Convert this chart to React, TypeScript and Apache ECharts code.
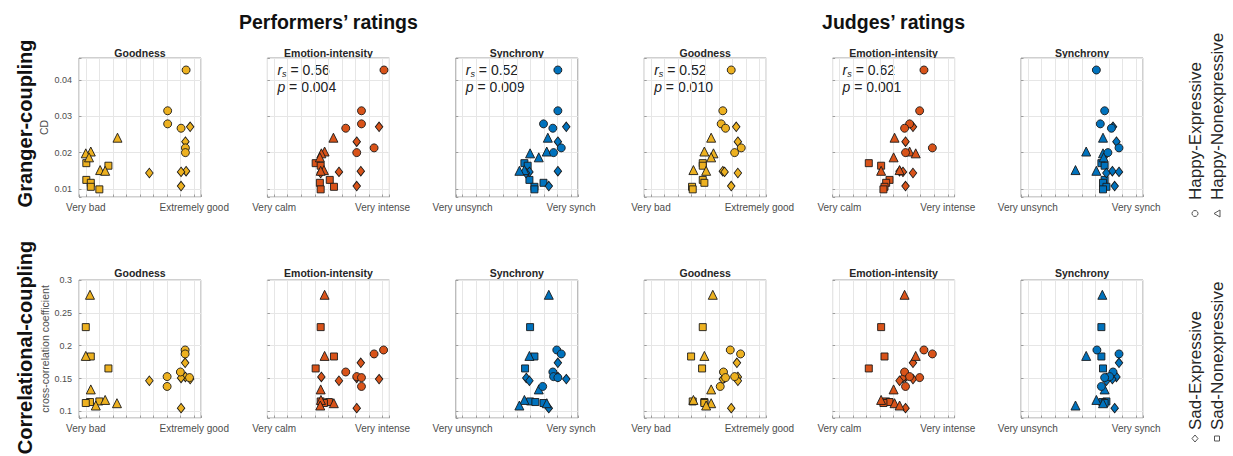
import React, { useEffect, useRef } from 'react';
import * as echarts from 'echarts';

// ---------- data: y values (shared across a row) ----------
// Granger-coupling (CD)
const yTopHE = [0.0427, 0.0315, 0.0279, 0.0267, 0.0213, 0.02];
const yTopHN = [0.0241, 0.0203, 0.0198, 0.0187, 0.0152, 0.015];
const yTopSE = [0.0271, 0.023, 0.0149, 0.0147, 0.0144, 0.0108];
const yTopSN = [0.0171, 0.0164, 0.0125, 0.0117, 0.0106, 0.0099];
// Correlational-coupling (cross-correlation coefficient)
const yBotHE = [0.1935, 0.1875, 0.16, 0.153, 0.1515, 0.138];
const yBotHN = [0.2775, 0.1845, 0.1335, 0.1175, 0.1125, 0.109];
const yBotSE = [0.174, 0.1525, 0.151, 0.1492, 0.1467, 0.105];
const yBotSN = [0.2283, 0.1836, 0.1654, 0.1152, 0.1143, 0.1128];

// ---------- data: x ratings per panel, rows = [HE, HN, SE, SN] ----------
const xTopPerfGoodness = [
  [8.4, 7.04, 7.04, 8.03, 8.35, 8.35],
  [3.34, 1.37, 1.0, 1.24, 2.06, 2.43],
  [8.7, 8.35, 8.4, 8.03, 5.69, 8.03],
  [1.04, 2.67, 1.04, 1.37, 1.37, 2.0],
];
const xTopPerfEmotion = [
  [9.1, 7.44, 7.44, 6.28, 8.37, 7.09],
  [5.37, 4.72, 4.48, 4.37, 4.67, 4.43],
  [8.74, 7.09, 7.39, 5.78, 4.43, 7.09],
  [4.06, 4.43, 5.1, 4.37, 5.41, 4.43],
];
const xTopPerfSynch = [
  [8.03, 8.03, 6.97, 7.66, 8.28, 7.71],
  [7.29, 7.21, 5.98, 6.62, 5.56, 5.19],
  [8.65, 8.03, 8.03, 5.93, 5.68, 7.36],
  [5.56, 5.8, 5.93, 6.97, 6.3, 6.3],
];
const xTopJudgeGoodness = [
  [6.92, 6.3, 6.18, 6.5, 7.66, 7.17],
  [5.44, 4.94, 5.61, 5.44, 4.13, 5.07],
  [7.29, 7.41, 6.3, 6.43, 7.41, 6.92],
  [4.82, 4.82, 4.82, 4.94, 4.03, 4.08],
];
const xTopJudgeEmotion = [
  [7.24, 6.92, 6.18, 5.81, 7.86, 5.88],
  [5.07, 6.18, 6.63, 5.0, 5.44, 4.08],
  [6.43, 5.88, 5.44, 5.69, 6.43, 5.88],
  [3.17, 4.08, 4.7, 4.45, 4.33, 4.25],
];
const xTopJudgeSynch = [
  [6.06, 6.67, 6.35, 7.17, 7.73, 6.91],
  [6.55, 5.31, 6.55, 6.6, 4.52, 6.06],
  [7.29, 7.54, 7.24, 7.73, 6.8, 7.41],
  [6.43, 6.67, 6.67, 6.55, 6.8, 6.55],
];
const xBotPerfGoodness = [
  [8.33, 8.33, 7.98, 7.0, 8.65, 7.0],
  [1.31, 1.0, 1.37, 2.43, 3.3, 1.74],
  [8.33, 8.35, 8.03, 8.7, 5.69, 8.03],
  [1.0, 1.37, 2.67, 2.0, 1.31, 1.0],
];
const xBotPerfEmotion = [
  [9.07, 8.37, 6.28, 7.09, 7.44, 7.44],
  [4.72, 4.72, 4.43, 4.45, 5.4, 4.4],
  [7.39, 4.48, 7.09, 8.74, 5.78, 7.09],
  [4.43, 5.41, 4.06, 4.43, 5.04, 4.67],
];
const xBotPerfSynch = [
  [7.95, 8.28, 7.66, 7.71, 8.03, 6.91],
  [7.36, 5.93, 6.62, 5.56, 7.21, 5.19],
  [8.03, 8.03, 5.7, 8.65, 5.93, 7.36],
  [5.98, 6.3, 5.61, 5.98, 6.37, 6.97],
];
const xBotJudgeGoodness = [
  [6.85, 7.61, 6.35, 7.17, 6.5, 6.11],
  [5.56, 4.94, 5.44, 4.13, 5.44, 5.07],
  [7.34, 7.41, 6.43, 6.3, 7.41, 6.92],
  [4.82, 3.96, 4.77, 4.08, 4.94, 4.94],
];
const xBotJudgeEmotion = [
  [7.24, 7.86, 5.81, 6.18, 6.92, 5.88],
  [5.81, 6.63, 5.0, 4.08, 5.07, 5.44],
  [6.43, 5.88, 5.69, 6.43, 5.44, 5.88],
  [4.08, 4.33, 3.17, 4.45, 4.7, 4.25],
];
const xBotJudgeSynch = [
  [6.1, 7.73, 7.29, 7.04, 6.67, 6.43],
  [6.5, 5.31, 6.67, 6.06, 6.55, 4.52],
  [7.73, 7.54, 6.8, 7.24, 6.8, 7.41],
  [6.43, 6.43, 6.55, 6.8, 6.5, 6.67],
];

// ---------- labels ----------
const panelTitles = ['Goodness', 'Emotion-intensity', 'Synchrony', 'Goodness', 'Emotion-intensity', 'Synchrony'];
const xLowLabels = ['Very bad', 'Very calm', 'Very unsynch', 'Very bad', 'Very calm', 'Very unsynch'];
const xHighLabels = ['Extremely good', 'Very intense', 'Very synch', 'Extremely good', 'Very intense', 'Very synch'];
const groupTitles = ['Performers\u2019 ratings', 'Judges\u2019 ratings'];
const rowTitles = ['Granger-coupling', 'Correlational-coupling'];
const yNames = ['CD', 'cross-correlation coefficient'];
const conditions = ['Happy-Expressive', 'Happy-Nonexpressive', 'Sad-Expressive', 'Sad-Nonexpressive'];
const statsR = ['', '0.56', '0.52', '0.52', '0.62', ''];
const statsP = ['', '0.004', '0.009', '0.010', '0.001', ''];

// ---------- style / layout ----------
const FONT = "'Liberation Sans', Arial, Helvetica, sans-serif";
const COLORS = ['#EDB120', '#D95319', '#0072BD', '#EDB120', '#D95319', '#0072BD'];
const SYMBOLS = ['circle', 'triangle', 'diamond', 'rect'];
const SYMBOL_SIZES: any[] = [8, 9, [7.5, 9.5], 7];
const GRID_LEFT0 = 79;
const GRID_STEP = 188.4;
const GRID_W = 122;
const ROW_LAYOUT = [
  { top: 58, height: 139, min: 0.0078, max: 0.046, step: 0.01 },
  { top: 280, height: 138, min: 0.09, max: 0.3, step: 0.05 },
];

const rowYs = [
  [yTopHE, yTopHN, yTopSE, yTopSN],
  [yBotHE, yBotHN, yBotSE, yBotSN],
];
const rowXs = [
  [xTopPerfGoodness, xTopPerfEmotion, xTopPerfSynch, xTopJudgeGoodness, xTopJudgeEmotion, xTopJudgeSynch],
  [xBotPerfGoodness, xBotPerfEmotion, xBotPerfSynch, xBotJudgeGoodness, xBotJudgeEmotion, xBotJudgeSynch],
];

function buildOption() {
  const grids: any[] = [];
  const xAxes: any[] = [];
  const yAxes: any[] = [];
  const series: any[] = [];
  const graphics: any[] = [];

  for (let r = 0; r < 2; r++) {
    const L = ROW_LAYOUT[r];
    for (let c = 0; c < 6; c++) {
      const g = r * 6 + c;
      const left = GRID_LEFT0 + c * GRID_STEP;
      grids.push({
        left,
        top: L.top,
        width: GRID_W,
        height: L.height,
        show: true,
        borderColor: '#a0a0a0',
        borderWidth: 1,
        backgroundColor: '#ffffff',
      });
      const lo = xLowLabels[c];
      const hi = xHighLabels[c];
      xAxes.push({
        gridIndex: g,
        type: 'value',
        min: 0.5,
        max: 9.5,
        splitNumber: 9,
        minInterval: 1,
        maxInterval: 1,
        axisLine: { show: false },
        axisTick: { show: true, inside: true, length: 2.5, lineStyle: { color: '#8a8a8a', width: 0.8 } },
        splitLine: { show: true, lineStyle: { color: '#e6e6e6', width: 1 } },
        axisLabel: {
          show: true,
          margin: 5,
          fontSize: 10,
          fontFamily: FONT,
          color: '#4d4d4d',
          formatter: (v: number) => (Math.abs(v - 1) < 1e-9 ? lo : Math.abs(v - 9) < 1e-9 ? hi : ''),
        },
      });
      const step = L.step;
      yAxes.push({
        gridIndex: g,
        type: 'value',
        min: L.min,
        max: L.max,
        splitNumber: 5,
        minInterval: step,
        maxInterval: step,
        axisLine: { show: false },
        axisTick: { show: true, inside: true, length: 2.5, lineStyle: { color: '#8a8a8a', width: 0.8 } },
        splitLine: { show: true, lineStyle: { color: '#e6e6e6', width: 1 } },
        axisLabel: {
          show: c === 0,
          margin: 7,
          fontSize: 9,
          fontFamily: FONT,
          color: '#4d4d4d',
          formatter: (v: number) => {
            const q = v / step;
            return Math.abs(q - Math.round(q)) < 1e-6 ? String(parseFloat(v.toFixed(4))) : '';
          },
        },
        name: c === 0 ? yNames[r] : '',
        nameLocation: 'middle',
        nameGap: r === 0 ? 30 : 27,
        nameTextStyle: { fontSize: 10.5, fontFamily: FONT, color: '#4d4d4d' },
      });

      const xs = rowXs[r][c];
      const ys = rowYs[r];
      for (let k = 3; k >= 0; k--) {
        series.push({
          type: 'scatter',
          name: conditions[k],
          xAxisIndex: g,
          yAxisIndex: g,
          symbol: SYMBOLS[k],
          symbolSize: SYMBOL_SIZES[k],
          silent: true,
          data: xs[k].map((x: number, i: number) => [x, ys[k][i]]),
          itemStyle: { color: COLORS[c], borderColor: '#1a1a1a', borderWidth: 0.9, opacity: 1 },
        });
      }

      // panel title
      graphics.push({
        type: 'text',
        x: left + GRID_W / 2,
        y: r === 0 ? 52.5 : 273,
        style: {
          text: panelTitles[c],
          font: `bold 10.5px ${FONT}`,
          fill: '#262626',
          textAlign: 'center',
          textVerticalAlign: 'middle',
          verticalAlign: 'middle',
        },
      });

      // statistics
      if (r === 0 && statsR[c]) {
        graphics.push({
          type: 'text',
          x: left + 10,
          y: 61,
          style: {
            text: `{i|r}{s|s}{n| = ${statsR[c]}}\n{i|p}{n| = ${statsP[c]}}`,
            textAlign: 'left',
            textVerticalAlign: 'top',
            verticalAlign: 'top',
            rich: {
              i: { fontStyle: 'italic', fontSize: 14, fontFamily: FONT, fill: '#222', lineHeight: 17.5 },
              s: { fontStyle: 'italic', fontSize: 9, fontFamily: FONT, fill: '#222', lineHeight: 9, verticalAlign: 'bottom' },
              n: { fontSize: 14, fontFamily: FONT, fill: '#222', lineHeight: 17.5 },
            },
          },
        });
      }
    }
  }

  // group headers
  const headerX = [
    GRID_LEFT0 + (GRID_STEP * 2 + GRID_W) / 2,
    GRID_LEFT0 + 3 * GRID_STEP + (GRID_STEP * 2 + GRID_W) / 2,
  ];
  groupTitles.forEach((t, i) => {
    graphics.push({
      type: 'text',
      x: headerX[i],
      y: 21.5,
      style: {
        text: t,
        font: `bold 19.5px ${FONT}`,
        fill: '#111',
        textAlign: 'center',
        textVerticalAlign: 'middle',
        verticalAlign: 'middle',
      },
    });
  });

  // row titles
  const rowCenters = [123.5, 347.5];
  rowTitles.forEach((t, i) => {
    graphics.push({
      type: 'text',
      x: 24.5,
      y: rowCenters[i],
      rotation: Math.PI / 2,
      style: {
        text: t,
        font: `bold 20px ${FONT}`,
        fill: '#111',
        textAlign: 'center',
        textVerticalAlign: 'middle',
        verticalAlign: 'middle',
      },
    });
  });

  // legend (rotated)
  const legendX = [1195, 1217];
  const legendTextBottom = [200, 430];
  const legendMarkerY = [213.5, 438.5];
  for (let b = 0; b < 2; b++) {
    for (let j = 0; j < 2; j++) {
      const k = b * 2 + j;
      graphics.push({
        type: 'text',
        x: legendX[j],
        y: legendTextBottom[b],
        rotation: Math.PI / 2,
        style: {
          text: conditions[k],
          font: `17px ${FONT}`,
          fill: '#262626',
          textAlign: 'left',
          textVerticalAlign: 'middle',
          verticalAlign: 'middle',
        },
      });
      const mx = legendX[j];
      const my = legendMarkerY[b];
      const mstyle = { fill: '#ffffff', stroke: '#555', lineWidth: 1 };
      if (k === 0) {
        graphics.push({ type: 'circle', shape: { cx: mx, cy: my, r: 3 }, style: mstyle });
      } else if (k === 1) {
        graphics.push({
          type: 'polygon',
          shape: { points: [[mx + 3, my - 3.5], [mx + 3, my + 3.5], [mx - 3, my]] },
          style: mstyle,
        });
      } else if (k === 2) {
        graphics.push({
          type: 'polygon',
          shape: { points: [[mx, my - 3.5], [mx + 3, my], [mx, my + 3.5], [mx - 3, my]] },
          style: mstyle,
        });
      } else {
        graphics.push({ type: 'rect', shape: { x: mx - 2.5, y: my - 2.5, width: 5, height: 5 }, style: mstyle });
      }
    }
  }

  return {
    animation: false,
    backgroundColor: '#ffffff',
    grid: grids,
    xAxis: xAxes,
    yAxis: yAxes,
    series,
    graphic: graphics,
  };
}

export default function App() {
  const ref = useRef<HTMLDivElement>(null);
  useEffect(() => {
    if (!ref.current) return;
    const chart = echarts.init(ref.current, null, { renderer: 'svg' });
    chart.setOption(buildOption() as any);
    return () => {
      chart.dispose();
    };
  }, []);
  return (
    <div
      ref={ref}
      style={{ position: 'fixed', left: 0, top: 0, width: 1233, height: 456, background: '#ffffff' }}
    />
  );
}
